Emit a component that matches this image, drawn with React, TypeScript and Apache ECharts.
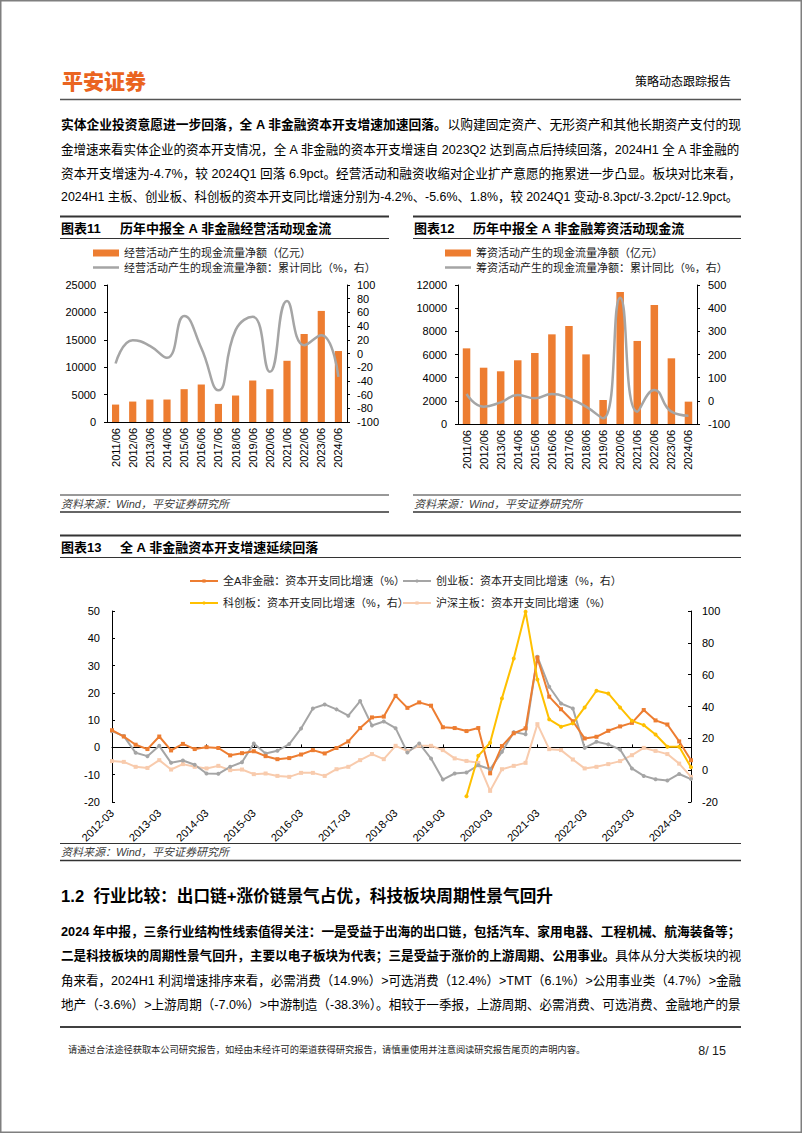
import React, { useEffect, useRef } from "react";
import * as echarts from "echarts";

const FONT = "'Liberation Sans', 'Noto Sans CJK SC', sans-serif";
const CJK = "'Noto Sans CJK SC', 'Liberation Sans', sans-serif";

// ---------- 图表11 / 图表12 ----------
const halfYears = ["2011/06", "2012/06", "2013/06", "2014/06", "2015/06", "2016/06", "2017/06", "2018/06", "2019/06", "2020/06", "2021/06", "2022/06", "2023/06", "2024/06"];
const opCashFlow = [3180, 3730, 4100, 4100, 5990, 6840, 3300, 4830, 7570, 5990, 11170, 16060, 20270, 12950];
const opCashYoY = [-14.6, 19.5, 11.2, -6.3, 54.6, 8.0, -53.7, 34.1, 53.7, -26.8, 76.6, 12.2, 26.8, -34.1];
const finCashFlow = [6530, 4860, 4550, 5500, 6130, 7740, 8460, 6010, 2070, 11400, 7170, 10270, 5670, 1930];
const finCashYoY = [29.5, -25, -6.5, 25, 10.8, 29.5, 10.8, -25, -75.5, 445, -46.8, 46.8, -46.8, -64];

// ---------- 图表13 ----------
const quarters = [
  "2012-03", "2012-06", "2012-09", "2012-12", "2013-03", "2013-06", "2013-09", "2013-12",
  "2014-03", "2014-06", "2014-09", "2014-12", "2015-03", "2015-06", "2015-09", "2015-12",
  "2016-03", "2016-06", "2016-09", "2016-12", "2017-03", "2017-06", "2017-09", "2017-12",
  "2018-03", "2018-06", "2018-09", "2018-12", "2019-03", "2019-06", "2019-09", "2019-12",
  "2020-03", "2020-06", "2020-09", "2020-12", "2021-03", "2021-06", "2021-09", "2021-12",
  "2022-03", "2022-06", "2022-09", "2022-12", "2023-03", "2023-06", "2023-09", "2023-12",
  "2024-03", "2024-06",
];
const capexAllA = [6.3, 4.0, 1.0, -0.6, 4.0, -1.1, 1.3, -0.6, 0.1, -0.2, -2.9, -2.1, -1.4, -3.2, -4.3, -3.9, -2.6, -1.0, -2.2, -0.2, 2.2, 7.1, 11.0, 11.3, 18.9, 14.5, 16.5, 15.3, 7.4, 7.1, 6.0, 7.1, -9.5, 0.5, 5.2, 7.0, 32.9, 18.6, 14.0, 9.6, 3.3, 3.9, 6.1, 7.7, 9.0, 13.7, 9.9, 8.4, 2.2, -4.7];
const capexChiNext = [24.5, 21.4, 10.9, 8.8, 15.3, 4.6, 6.1, 3.4, -2.1, -2.3, 2.1, 5.0, 16.8, 10.5, 12.2, 16.4, 26.2, 38.8, 41.3, 38.2, 34.2, 43.4, 28.1, 30.6, 26.4, 11.1, 16.8, 7.3, -5.9, -2.1, -1.5, 3.1, 0.6, 11.5, 23.9, 22.6, 71.3, 52.4, 41.9, 38.8, 14.0, 17.8, 16.2, 13.0, 1.1, -3.6, -5.7, -6.5, -2.4, -5.6];
const capexStar = [null, null, null, null, null, null, null, null, null, null, null, null, null, null, null, null, null, null, null, null, null, null, null, null, null, null, null, null, null, null, -16.4, 9.0, 17.2, 45.1, 70.2, 99.6, 57.0, 31.9, 27.3, 29.4, 39.4, 49.9, 48.2, 39.4, 31.0, 28.3, 22.4, 14.7, 14.7, 1.8];
const capexMainBoard = [5.7, 5.2, 2.1, 1.4, 6.3, 0.4, 3.8, 2.1, 1.1, 2.7, 0.0, 0.4, -2.5, -2.1, -3.6, -4.2, -1.7, -1.7, -3.6, 0.6, 2.1, 6.3, 10.1, 6.9, 15.3, 12.0, 15.3, 15.3, 12.6, 7.4, 5.8, 4.6, -13.0, 0.6, 2.7, 4.6, 28.9, 13.2, 12.6, 6.7, 1.1, 2.1, 3.8, 5.7, 9.4, 14.0, 12.1, 10.1, 4.1, -4.2];

// names
const n11Bar = "经营活动产生的现金流量净额（亿元）";
const n11Line = "经营活动产生的现金流量净额：累计同比（%，右）";
const n12Bar = "筹资活动产生的现金流量净额（亿元）";
const n12Line = "筹资活动产生的现金流量净额：累计同比（%，右）";
const n13a = "全A非金融：资本开支同比增速（%）";
const n13b = "创业板：资本开支同比增速（%，右）";
const n13c = "科创板：资本开支同比增速（%，右）";
const n13d = "沪深主板：资本开支同比增速（%）";

// texts
const para1 = [
  [{ t: "实体企业投资意愿进一步回落，全 A 非金融资本开支增速加速回落。", b: true }, { t: "以购建固定资产、无形资产和其他长期资产支付的现" }],
  [{ t: "金增速来看实体企业的资本开支情况，全 A 非金融的资本开支增速自 2023Q2 达到高点后持续回落，2024H1 全 A 非金融的" }],
  [{ t: "资本开支增速为-4.7%，较 2024Q1 回落 6.9pct。经营活动和融资收缩对企业扩产意愿的拖累进一步凸显。板块对比来看，" }],
  [{ t: "2024H1 主板、创业板、科创板的资本开支同比增速分别为-4.2%、-5.6%、1.8%，较 2024Q1 变动-8.3pct/-3.2pct/-12.9pct。" }],
];
const para2 = [
  [{ t: "2024 年中报，三条行业结构性线索值得关注：一是受益于出海的出口链，包括汽车、家用电器、工程机械、航海装备等；", b: true }],
  [{ t: "二是科技板块的周期性景气回升，主要以电子板块为代表；三是受益于涨价的上游周期、公用事业。", b: true }, { t: "具体从分大类板块的视" }],
  [{ t: "角来看，2024H1 利润增速排序来看，必需消费（14.9%）>可选消费（12.4%）>TMT（6.1%）>公用事业类（4.7%）>金融" }],
  [{ t: "地产（-3.6%）>上游周期（-7.0%）>中游制造（-38.3%）。相较于一季报，上游周期、必需消费、可选消费、金融地产的景" }],
];
const para1Y = [124, 149, 173, 197];
const para2Y = [931, 955, 980, 1004];
const sourceText = "资料来源：Wind，平安证券研究所";

let ctx: any = null;
function measure(text: string, size: number, weight = "normal", family = FONT) {
  if (!ctx) ctx = document.createElement("canvas").getContext("2d");
  ctx.font = `normal ${weight} ${size}px ${family}`;
  return ctx.measureText(text).width;
}

function txt(text: string, x: number, y: number, o: any = {}) {
  const align = o.align || "left";
  return {
    type: "text",
    x,
    y,
    scaleX: o.scaleX || 1,
    z: 10,
    style: {
      text,
      fontFamily: o.family || FONT,
      fontSize: o.size || 13,
      fontWeight: o.weight || "normal",
      fontStyle: o.italic ? "italic" : "normal",
      fill: o.color || "#000",
      align,
      textAlign: align,
      verticalAlign: "middle",
      textVerticalAlign: "middle",
    },
  };
}

function jline(segs: any[], x: number, y: number, size: number, target: number) {
  const w = segs.reduce((s, g) => s + measure(g.t, size, g.b ? "bold" : "normal"), 0);
  const sx = Math.min(1.08, Math.max(0.9, target / w));
  const text = segs.map((g) => `{${g.b ? "b" : "n"}|${g.t}}`).join("");
  const base = { fontFamily: FONT, fontSize: size, fill: "#000", color: "#000" };
  return {
    type: "text",
    x,
    y,
    scaleX: sx,
    z: 10,
    style: {
      text,
      fontFamily: FONT,
      fontSize: size,
      fill: "#000",
      align: "left",
      textAlign: "left",
      verticalAlign: "middle",
      textVerticalAlign: "middle",
      rich: {
        b: { ...base, fontWeight: "bold" },
        n: { ...base, fontWeight: "normal" },
      },
    },
  };
}

function hline(x1: number, x2: number, y: number, w = 1, color = "#262626") {
  return { type: "line", z: 10, shape: { x1, y1: y, x2, y2: y }, style: { stroke: color, lineWidth: w } };
}

function block(x1: number, x2: number, topY: number, titleNo: string, title: string, srcTop: number) {
  return [
    hline(x1, x2, topY, 2, "#333"),
    txt(titleNo, x1 + 1, topY + 12, { size: 13, weight: "bold" }),
    txt(title, x1 + 60, topY + 12, { size: 13, weight: "bold" }),
    hline(x1, x2, topY + 22, 1, "#333"),
    hline(x1, x2, srcTop, 1, "#333"),
    txt(sourceText, x1 + 1, srcTop + 8.5, { size: 11, italic: true, color: "#404040" }),
    hline(x1, x2, srcTop + 17, 1.5, "#333"),
  ];
}

const plain = (v: number) => String(v);
const lbl = { fontFamily: FONT, fontSize: 11, color: "#000" };
const blk = { color: "#000", width: 1 };

function valueAxis(gridIndex: number, position: string, min: number, max: number, interval: number, margin: number, inside: boolean) {
  return {
    type: "value",
    gridIndex,
    position,
    min,
    max,
    interval,
    axisLine: { show: true, onZero: false, lineStyle: blk },
    axisTick: { show: true, inside, length: 3, lineStyle: blk },
    splitLine: { show: false },
    axisLabel: { ...lbl, margin, formatter: plain },
  };
}

function legendItem(name: string, left: number, top: number, w: number, h: number, icon?: string) {
  const l: any = {
    data: [name],
    left,
    top,
    padding: 0,
    itemWidth: w,
    itemHeight: h,
    itemGap: 0,
    selectedMode: false,
    textStyle: { fontFamily: FONT, fontSize: 11, color: "#1a1a1a", padding: [0, 0, 0, 0] },
  };
  if (icon) l.icon = icon;
  return l;
}

export default function App() {
  const ref = useRef<HTMLDivElement>(null);
  useEffect(() => {
    document.body.style.margin = "0";
    const chart = echarts.init(ref.current!, null, { renderer: "svg" });

    const graphics: any[] = [
      { type: "rect", z: 10, shape: { x: 0.75, y: 0.75, width: 800.5, height: 1131.5 }, style: { fill: "none", stroke: "#7f7f7f", lineWidth: 1.5 } },
      txt("平安证券", 62, 80, { size: 21, weight: 900, family: CJK, color: "#EA6420" }),
      txt("策略动态跟踪报告", 731, 80, { size: 12, align: "right", family: CJK }),
      hline(60, 741, 99.5, 1.5, "#555"),
      ...para1.map((segs, i) => jline(segs, 61, para1Y[i], 13, i === 3 ? 678 : 680)),
      ...block(60, 389, 216.5, "图表11", "历年中报全 A 非金融经营活动现金流", 495),
      ...block(413, 741, 216.5, "图表12", "历年中报全 A 非金融筹资活动现金流", 495),
      ...block(60, 741, 535.5, "图表13", "全 A 非金融资本开支增速延续回落", 843.5),
      (() => {
        const t = "1.2  行业比较：出口链+涨价链景气占优，科技板块周期性景气回升";
        const w = measure(t, 16.5, "bold");
        return txt(t, 61, 897, { size: 16.5, weight: "bold", scaleX: Math.min(1.08, Math.max(0.9, 492 / w)) });
      })(),
      ...para2.map((segs, i) => jline(segs, 61, para2Y[i], 13, 680)),
      hline(60, 741, 1027, 1.5, "#000"),
      (() => {
        const t = "请通过合法途径获取本公司研究报告，如经由未经许可的渠道获得研究报告，请慎重使用并注意阅读研究报告尾页的声明内容。";
        const w = measure(t, 9.5);
        return txt(t, 68, 1050, { size: 9.5, color: "#262626", scaleX: Math.min(1.1, Math.max(0.9, 518 / w)) });
      })(),
      txt("8/ 15", 726, 1051, { size: 12.5, align: "right", color: "#1a1a1a" }),
    ];

    const option: any = {
      animation: false,
      backgroundColor: "#fff",
      textStyle: { fontFamily: FONT },
      grid: [
        { left: 107, top: 285, width: 240, height: 137, containLabel: false, outerBoundsMode: "none" },
        { left: 458, top: 285, width: 239, height: 139, containLabel: false, outerBoundsMode: "none" },
        { left: 112, top: 611, width: 579, height: 191, containLabel: false, outerBoundsMode: "none" },
      ],
      xAxis: [
        { type: "category", gridIndex: 0, data: halfYears, axisLine: { show: true, onZero: false, lineStyle: blk }, axisTick: { show: false }, splitLine: { show: false }, axisLabel: { ...lbl, rotate: 90, interval: 0, margin: 6 } },
        { type: "category", gridIndex: 1, data: halfYears, axisLine: { show: true, onZero: false, lineStyle: blk }, axisTick: { show: false }, splitLine: { show: false }, axisLabel: { ...lbl, rotate: 90, interval: 0, margin: 6 } },
        { type: "category", gridIndex: 2, position: "bottom", data: quarters, boundaryGap: false, axisLine: { show: false, onZero: false }, axisTick: { show: false }, splitLine: { show: false }, axisLabel: { ...lbl, rotate: 45, interval: 3, margin: 9 } },
        { type: "category", gridIndex: 2, position: "bottom", data: quarters, boundaryGap: false, axisLine: { show: true, onZero: true, onZeroAxisIndex: 4, lineStyle: blk }, axisTick: { show: true, inside: true, interval: 3, length: 3, lineStyle: blk }, splitLine: { show: false }, axisLabel: { show: false } },
      ],
      yAxis: [
        valueAxis(0, "left", 0, 25000, 5000, 11, false),
        valueAxis(0, "right", -100, 100, 20, 10, false),
        valueAxis(1, "left", 0, 12000, 2000, 11, false),
        valueAxis(1, "right", -100, 500, 100, 11, false),
        valueAxis(2, "left", -20, 50, 10, 12, true),
        valueAxis(2, "right", -20, 100, 20, 11, true),
      ],
      legend: [
        legendItem(n11Bar, 93, 247.5, 26, 7, "rect"),
        legendItem(n11Line, 93, 262, 26, 2.5, "rect"),
        legendItem(n12Bar, 445, 247.5, 26, 7, "rect"),
        legendItem(n12Line, 445, 262, 26, 2.5, "rect"),
        legendItem(n13a, 189, 575.5, 28, 4),
        legendItem(n13b, 402, 575.5, 28, 4),
        legendItem(n13c, 189, 597.5, 28, 4),
        legendItem(n13d, 402, 597.5, 28, 4),
      ],
      series: [
        { type: "bar", name: n11Bar, xAxisIndex: 0, yAxisIndex: 0, data: opCashFlow, barWidth: "42%", itemStyle: { color: "#ED7D31" } },
        { type: "line", name: n11Line, xAxisIndex: 0, yAxisIndex: 1, data: opCashYoY, smooth: 0.5, symbol: "none", lineStyle: { color: "#A5A5A5", width: 2.5 }, itemStyle: { color: "#A5A5A5" } },
        { type: "bar", name: n12Bar, xAxisIndex: 1, yAxisIndex: 2, data: finCashFlow, barWidth: "44%", itemStyle: { color: "#ED7D31" } },
        { type: "line", name: n12Line, xAxisIndex: 1, yAxisIndex: 3, data: finCashYoY, smooth: 0.5, symbol: "none", lineStyle: { color: "#A5A5A5", width: 2.5 }, itemStyle: { color: "#A5A5A5" } },
        { type: "line", name: n13d, xAxisIndex: 2, yAxisIndex: 5, data: capexMainBoard, symbol: "rect", symbolSize: 4, lineStyle: { color: "#F8CBAD", width: 2 }, itemStyle: { color: "#F8CBAD" } },
        { type: "line", name: n13b, xAxisIndex: 2, yAxisIndex: 5, data: capexChiNext, symbol: "circle", symbolSize: 4, lineStyle: { color: "#A5A5A5", width: 2 }, itemStyle: { color: "#A5A5A5" } },
        { type: "line", name: n13a, xAxisIndex: 2, yAxisIndex: 4, data: capexAllA, symbol: "rect", symbolSize: 4, lineStyle: { color: "#ED7D31", width: 2 }, itemStyle: { color: "#ED7D31" } },
        { type: "line", name: n13c, xAxisIndex: 2, yAxisIndex: 5, data: capexStar, symbol: "circle", symbolSize: 4, lineStyle: { color: "#FFC000", width: 2 }, itemStyle: { color: "#FFC000" } },
      ],
      graphic: { elements: graphics },
    };
    chart.setOption(option);
    return () => chart.dispose();
  }, []);
  return <div ref={ref} style={{ position: "absolute", left: 0, top: 0, width: 802, height: 1133, background: "#fff" }} />;
}
